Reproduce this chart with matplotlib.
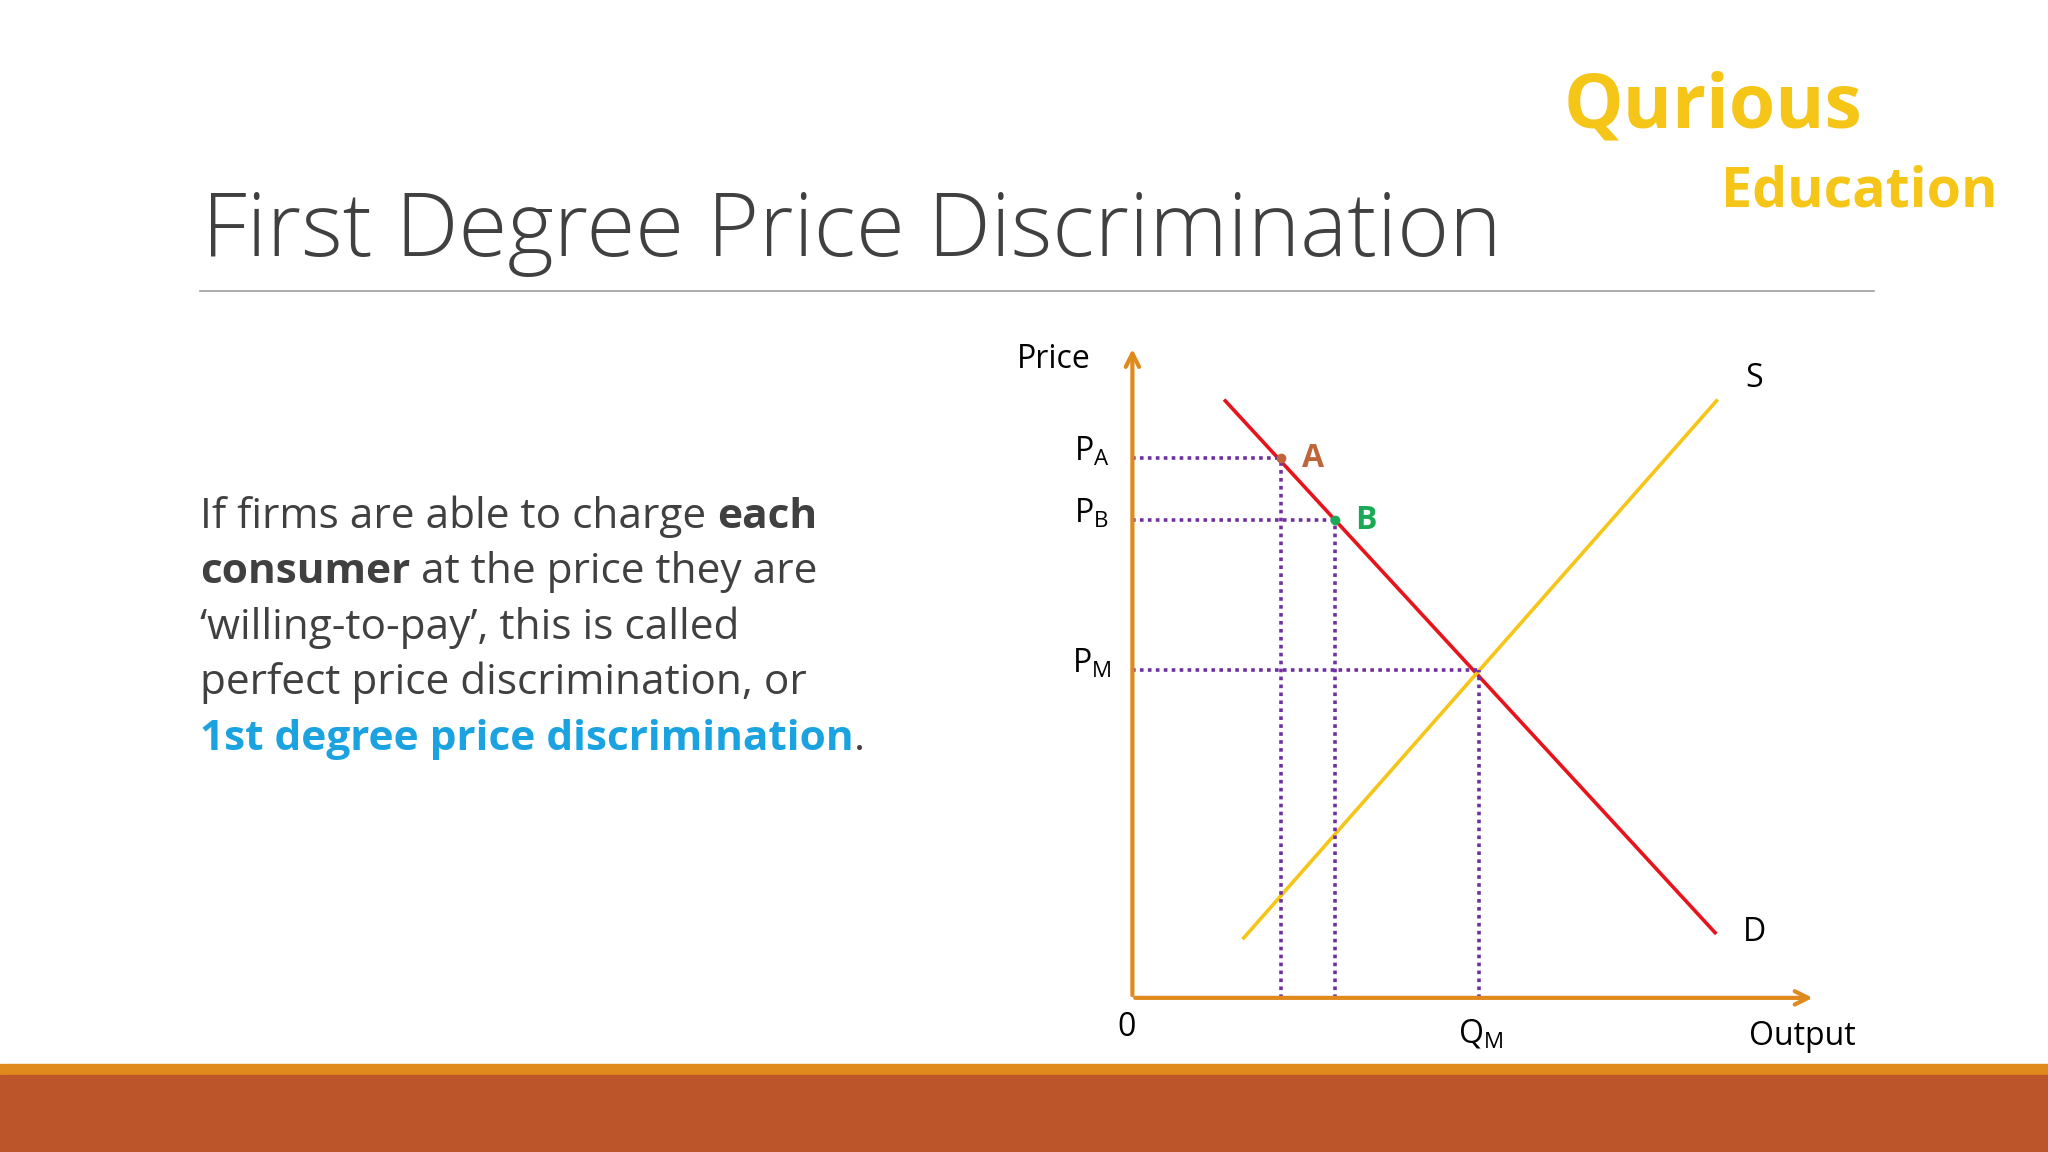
import matplotlib
matplotlib.use('Agg')
from matplotlib import pyplot as plt
from matplotlib.patches import Rectangle

plt.rcParams['font.family'] = ['Open Sans', 'DejaVu Sans']

# diagram data (chart units 0..10)
demand_x = [1.36, 8.53]
demand_y = [9.16, 1.0]
supply_x = [1.63, 8.55]
supply_y = [0.92, 9.16]
point_names = ['A', 'B', 'M']
point_x = [2.18, 2.96, 5.07]
point_y = [8.28, 7.33, 5.03]
point_colors = ['#C0643A', '#1AAA55', None]
price_labels = ['A', 'B', 'M']

W, H = 1568, 882
fig = plt.figure(figsize=(20.48, 11.52), dpi=100)

# background layer in reference pixel coords
bg = fig.add_axes([0, 0, 1, 1])
bg.set_xlim(0, W)
bg.set_ylim(H, 0)
bg.axis('off')
bg.add_patch(Rectangle((0, 815), W, 8, color='#E08A1E'))
bg.add_patch(Rectangle((0, 823), W, 60, color='#BC5529'))
bg.plot([153, 1435], [223, 223], color='#A0A0A0', lw=1.2)
bg.text(155, 196, 'First Degree Price Discrimination', fontsize=64, color='#404040',
        va='baseline', fontweight='light')
bg.text(1197, 98, 'Qurious', fontsize=54, color='#F5C518', fontweight='bold', va='baseline')
bg.text(1318, 158, 'Education', fontsize=40, color='#F5C518', fontweight='bold', va='baseline')

# body text with mixed styles
lines = [
    [('If firms are able to charge ', 'normal', '#404040'), ('each', 'bold', '#404040')],
    [('consumer', 'bold', '#404040'), (' at the price they are', 'normal', '#404040')],
    [('\u2018willing-to-pay\u2019, this is called', 'normal', '#404040')],
    [('perfect price discrimination, or', 'normal', '#404040')],
    [('1st degree price discrimination', 'bold', '#1AA3E0'), ('.', 'normal', '#404040')],
]
fig.canvas.draw()
r = fig.canvas.get_renderer()
for i, segs in enumerate(lines):
    x = 153
    y = 404 + i * 42.5
    for s, w, c in segs:
        t = bg.text(x, y, s, fontsize=30.5, fontweight=w, color=c, va='baseline')
        bb = t.get_window_extent(renderer=r)
        x += bb.width * W / fig.bbox.width

# economic diagram
ax = fig.add_axes([867 / W, 1 - 764 / H, (1390 - 867) / W, (764 - 265) / H])
ax.set_xlim(0, 10)
ax.set_ylim(0, 10)
ax.axis('off')
ax.patch.set_alpha(0)
orange = '#E08A1E'
ax.annotate('', xy=(10, 0), xytext=(0, 0),
            arrowprops=dict(arrowstyle='->', color=orange, lw=3, mutation_scale=24))
ax.annotate('', xy=(0, 10), xytext=(0, 0),
            arrowprops=dict(arrowstyle='->', color=orange, lw=3, mutation_scale=24))
ax.plot(demand_x, demand_y, color='#E8141C', lw=2.6)
ax.plot(supply_x, supply_y, color='#F5C518', lw=2.6)

purple = '#7030A0'
for name, px, py, c, pl in zip(point_names, point_x, point_y, point_colors, price_labels):
    ax.plot([0, px], [py, py], color=purple, lw=2.6, ls=(0, (1, 1.2)))
    ax.plot([px, px], [0, py], color=purple, lw=2.6, ls=(0, (1, 1.2)))
    if c:
        ax.plot(px, py, 'o', color=c, ms=6)
        ax.text(px + 0.3, py, name, color=c, fontsize=23, fontweight='bold', va='center')
    ax.text(-0.6, py + 0.1, 'P$_{\\mathregular{' + pl + '}}$', fontsize=23, ha='center', va='center')

ax.text(-1.15, 9.8, 'Price', fontsize=23, ha='center', va='center')
ax.text(-0.08, -0.45, '0', fontsize=23, ha='center', va='center')
ax.text(5.1, -0.55, 'Q$_{\\mathregular{M}}$', fontsize=23, ha='center', va='center')
ax.text(9.8, -0.6, 'Output', fontsize=23, ha='center', va='center')
ax.text(9.1, 9.5, 'S', fontsize=23, ha='center', va='center')
ax.text(9.1, 1.0, 'D', fontsize=23, ha='center', va='center')

fig.savefig('out.png', dpi=100)
